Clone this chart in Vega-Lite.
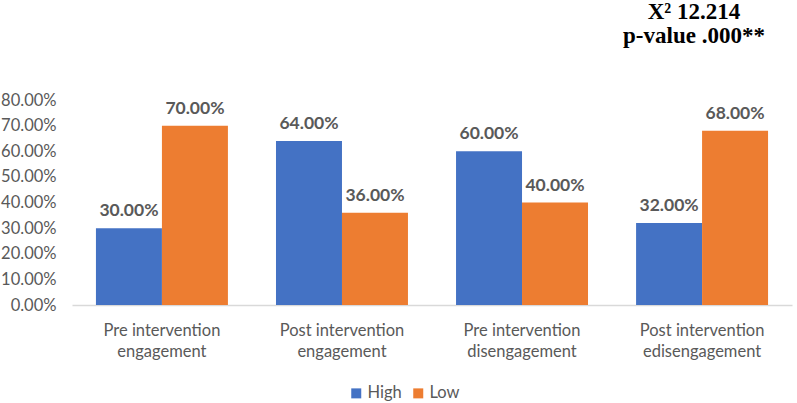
{
  "$schema": "https://vega.github.io/schema/vega-lite/v6.json",
  "width": 720,
  "height": 205,
  "autosize": {"type": "none"},
  "padding": {"left": 72, "top": 100, "right": 5, "bottom": 98},
  "background": "white",
  "config": {
    "view": {"stroke": null},
    "font": "Lato"
  },
  "title": {
    "text": ["X² 12.214", "p-value .000**"],
    "font": "Liberation Serif",
    "fontSize": 23,
    "fontWeight": "bold",
    "color": "#000000",
    "anchor": "end",
    "align": "center",
    "dx": -98,
    "offset": 44,
    "lineHeight": 24
  },
  "data": {
    "values": [
      {"category": "Pre intervention engagement", "level": "High", "value": 0.30},
      {"category": "Pre intervention engagement", "level": "Low", "value": 0.70},
      {"category": "Post intervention engagement", "level": "High", "value": 0.64},
      {"category": "Post intervention engagement", "level": "Low", "value": 0.36},
      {"category": "Pre intervention disengagement", "level": "High", "value": 0.60},
      {"category": "Pre intervention disengagement", "level": "Low", "value": 0.40},
      {"category": "Post intervention edisengagement", "level": "High", "value": 0.32},
      {"category": "Post intervention edisengagement", "level": "Low", "value": 0.68}
    ]
  },
  "encoding": {
    "x": {
      "field": "category",
      "type": "nominal",
      "sort": null,
      "scale": {"paddingInner": 0.267, "paddingOuter": 0.133},
      "axis": {
        "title": null,
        "labelAngle": 0,
        "labelExpr": "split(replace(datum.label, 'intervention ', 'intervention|'), '|')",
        "labelFont": "Lato",
        "labelFontSize": 16.5,
        "labelColor": "#595959",
        "labelPadding": 17,
        "labelLineHeight": 21,
        "ticks": false,
        "domainColor": "#d9d9d9",
        "domainWidth": 1.5,
        "grid": false
      }
    },
    "xOffset": {"field": "level", "type": "nominal", "sort": ["High", "Low"]},
    "y": {
      "field": "value",
      "type": "quantitative",
      "scale": {"domain": [0, 0.8], "nice": false},
      "axis": {
        "title": null,
        "format": ".2%",
        "values": [0, 0.1, 0.2, 0.3, 0.4, 0.5, 0.6, 0.7, 0.8],
        "labelFont": "Lato",
        "labelFontSize": 16.5,
        "labelColor": "#595959",
        "labelPadding": 16,
        "domain": false,
        "ticks": false,
        "grid": false
      }
    }
  },
  "layer": [
    {
      "mark": {"type": "bar"},
      "encoding": {
        "color": {
          "field": "level",
          "type": "nominal",
          "sort": ["High", "Low"],
          "scale": {"domain": ["High", "Low"], "range": ["#4472C4", "#ED7D31"]},
          "legend": {
            "title": null,
            "orient": "none",
            "legendX": 276,
            "legendY": 285,
            "direction": "horizontal",
            "symbolType": "square",
            "symbolSize": 100,
            "symbolStrokeWidth": 0,
            "labelFont": "Lato",
            "labelFontSize": 16.5,
            "labelColor": "#595959",
            "labelOffset": 3,
            "columnPadding": 8
          }
        }
      }
    },
    {
      "mark": {
        "type": "text",
        "dy": -12,
        "baseline": "alphabetic",
        "font": "Lato",
        "fontSize": 17.5,
        "fontWeight": "bold",
        "color": "#595959"
      },
      "encoding": {
        "text": {"field": "value", "type": "quantitative", "format": ".2%"}
      }
    }
  ]
}
